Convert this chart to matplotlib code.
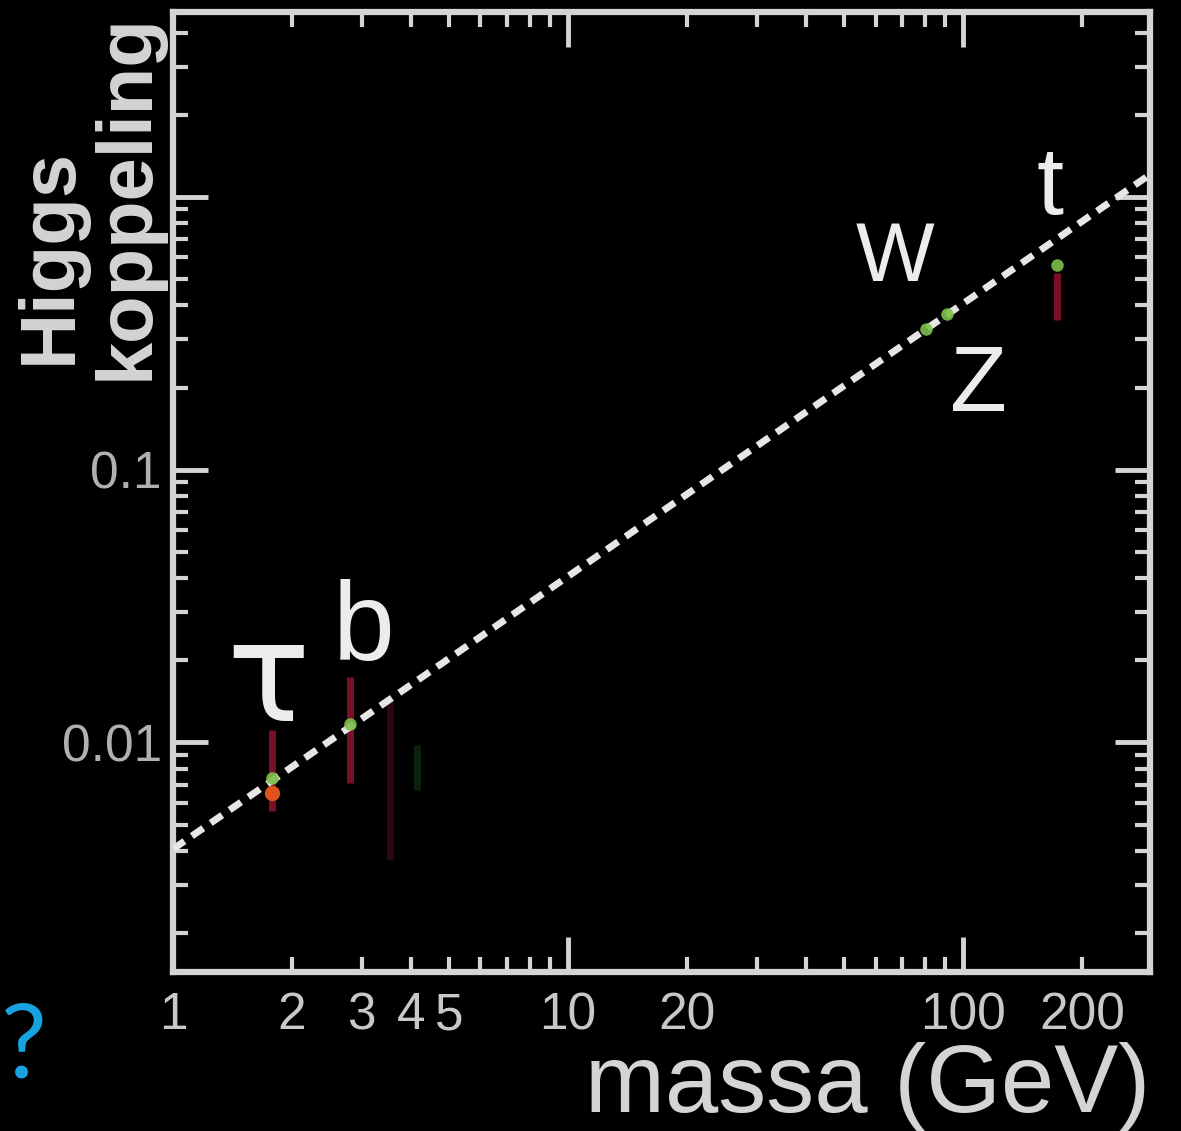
## Higgs koppeling tegen massa, log-log, zwarte achtergrond
import numpy as np
import matplotlib
matplotlib.use("Agg")
import matplotlib.pyplot as plt
from matplotlib.ticker import FixedLocator, FixedFormatter

# --- data ---
vev = 246.0                               # coupling line y = m / v
x_range = [1.0, 297.0]
y_range = [0.00144, 4.76]

sm_mass = [1.777, 2.81, 80.4, 91.2, 173.0]          # green points (tau, b, W, Z, t)
sm_coupling = [0.0074, 0.0117, 0.327, 0.371, 0.564]

bar_mass = [1.777, 2.81, 173.0]                     # red error bars (tau, b, t)
bar_low = [0.0056, 0.0071, 0.354]
bar_high = [0.0111, 0.0173, 0.525]

tau_meas_mass = [1.777]                             # orange measured point
tau_meas_coupling = [0.0065]

faint_mass = [3.54, 4.14]                           # ghost bars, barely visible
faint_low = [0.0037, 0.0067]
faint_high = [0.0143, 0.0098]
faint_colour = ["#2a0610", "#0a240c"]

labels = ["τ", "b", "W", "Z", "t"]
label_x = [1.74, 3.03, 67.3, 109.0, 166.0]
label_y = [0.0120, 0.0200, 0.492, 0.164, 0.866]
label_size = [100, 80, 60, 67, 70]

major_x = [1, 10, 100]
minor_x = [2, 3, 4, 5, 6, 7, 8, 9, 20, 30, 40, 50, 60, 70, 80, 90, 200]
minor_x_text = ["2", "3", "4", "5", "", "", "", "", "20", "", "", "", "", "", "", "", "200"]
y_ticks = [0.01, 0.1, 1.0]
y_tick_text = ["0.01", "0.1", ""]

fg = "#d4d4d4"
plt.rcParams["font.family"] = ["Liberation Sans", "DejaVu Sans"]

fig = plt.figure(figsize=(11.81, 11.31), dpi=100, facecolor="black")
ax = fig.add_axes([173 / 1181, 1 - 972 / 1131, 977 / 1181, 960 / 1131])
ax.set_facecolor("black")
ax.set_xscale("log")
ax.set_yscale("log")
ax.set_xlim(x_range)
ax.set_ylim(y_range)

# faint ghost bars first so they sit behind everything
for m, lo, hi, c in zip(faint_mass, faint_low, faint_high, faint_colour):
	ax.vlines(m, lo, hi, color=c, lw=5, zorder=1)

ax.vlines(bar_mass, bar_low, bar_high, color="#9a1430", lw=5, alpha=0.8, zorder=2)

# the coupling line
line_m = np.array(x_range)
ax.plot(line_m, line_m / vev, color="#e6e6e6", lw=5, dashes=(2.0, 1.3), zorder=3)

ax.plot(tau_meas_mass, tau_meas_coupling, "o", color="#e0521e", ms=11, mec="none", zorder=4)
ax.plot(sm_mass, sm_coupling, "o", color="#7cc04a", ms=9, mec="none", alpha=0.9, zorder=5)

for t, x, y, s in zip(labels, label_x, label_y, label_size):
	fam = ["DejaVu Sans"] if t == "τ" else ["Liberation Sans"]
	ax.text(x, y, t, color="#ececec", fontsize=s, ha="center", va="baseline", family=fam, zorder=6)

# frame and ticks
for sp in ax.spines.values():
	sp.set_color(fg)
	sp.set_linewidth(4.5)

ax.xaxis.set_major_locator(FixedLocator(major_x))
ax.xaxis.set_minor_locator(FixedLocator(minor_x))
ax.xaxis.set_major_formatter(FixedFormatter([str(v) for v in major_x]))
ax.xaxis.set_minor_formatter(FixedFormatter(minor_x_text))
ax.yaxis.set_major_locator(FixedLocator(y_ticks))
ax.yaxis.set_major_formatter(FixedFormatter(y_tick_text))

ax.tick_params(which="both", direction="in", top=True, right=True, colors=fg)
ax.tick_params(which="major", length=25, width=3.5)
ax.tick_params(which="minor", length=11, width=3)
ax.tick_params(axis="x", which="both", pad=14, labelsize=37, labelcolor="#c8c8c8")
ax.tick_params(axis="y", which="both", pad=8, labelsize=37, labelcolor="#b0b0b0")

# axis titles, placed by hand like on the slide
fig.text(1150 / 1181, 1 - 1112 / 1131, "massa (GeV)", color=fg, fontsize=69,
		 ha="right", va="baseline")
fig.text(71 / 1181, 1 - 256 / 1131, "Higgs", color=fg, fontsize=56, fontweight="bold",
		 rotation=90, rotation_mode="anchor", ha="center", va="baseline")
fig.text(148 / 1181, 1 - 197 / 1131, "koppeling", color=fg, fontsize=56, fontweight="bold",
		 rotation=90, rotation_mode="anchor", ha="center", va="baseline")

# the blue question mark at the left edge
fig.text(1 / 1181, 1 - 1078 / 1131, "?", color="#17a2e0", fontsize=74,
		 ha="left", va="baseline", family=["Lato", "DejaVu Sans"])

fig.savefig("out.png", dpi=100, facecolor="black")
